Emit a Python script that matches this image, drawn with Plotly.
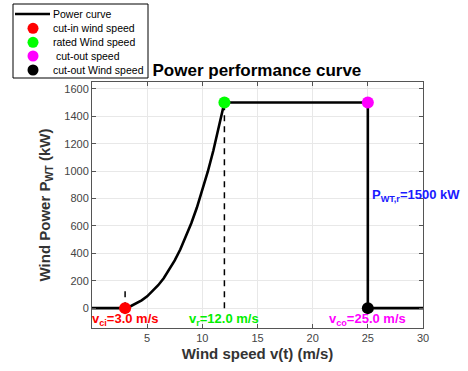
import plotly.graph_objects as go

# data
curve_v = [0, 3, 3.5, 4, 4.5, 5, 5.5, 6, 6.5, 7, 7.5, 8, 8.5, 9, 9.5, 10, 10.5, 11, 11.5, 12, 25, 25, 30]
curve_p = [0, 0, 14, 33, 57, 86, 123, 167, 218, 279, 348, 428, 518, 619, 732, 858, 997, 1150, 1317, 1500, 1500, 0, 0]
v_ci, v_r, v_co = 3.0, 12.0, 25.0
p_rated = 1500
x_ticks = [5, 10, 15, 20, 25, 30]
y_ticks = [0, 200, 400, 600, 800, 1000, 1200, 1400, 1600]
legend_names = ["Power curve", "cut-in wind speed", "rated Wind speed", " cut-out speed", "cut-out Wind speed"]
marker_colors = ["#ff0000", "#00ff00", "#ff00ff", "black"]

FONT = "Liberation Sans, Arial, sans-serif"
W, H = 468, 371
ML, MR, MT, MB = 92, 45, 82, 43
PW, PH = W - ML - MR, H - MT - MB


def px(xp):
    return (xp - ML) / PW


def py(yp):
    return (H - MB - yp) / PH


fig = go.Figure()
fig.add_trace(go.Scatter(x=curve_v, y=curve_p, mode="lines", name=legend_names[0], showlegend=False,
                         line=dict(color="black", width=2.6)))
fig.add_trace(go.Scatter(x=[v_ci, v_ci], y=[0, 150], mode="lines", showlegend=False,
                         line=dict(color="black", width=1.5, dash="6px,5px")))
fig.add_trace(go.Scatter(x=[v_r, v_r], y=[0, p_rated], mode="lines", showlegend=False,
                         line=dict(color="black", width=1.5, dash="6px,5px")))
marker_pts = [(v_ci, 0), (v_r, p_rated), (v_co, p_rated), (v_co, 0)]
for (mx, my), col, nm in zip(marker_pts, marker_colors, legend_names[1:]):
    fig.add_trace(go.Scatter(x=[mx], y=[my], mode="markers", name=nm, showlegend=False,
                             marker=dict(color=col, size=12)))

ann_font = dict(family=FONT, size=13)
fig.add_annotation(x=v_ci, y=-5, text="<b>v<sub>ci</sub>=3.0 m/s</b>", showarrow=False,
                   xanchor="center", yanchor="top", font=dict(color="#ff0000", **ann_font))
fig.add_annotation(x=v_r, y=-5, text="<b>v<sub>r</sub>=12.0 m/s</b>", showarrow=False,
                   xanchor="center", yanchor="top", font=dict(color="#00ee00", **ann_font))
fig.add_annotation(x=v_co, y=-5, text="<b>v<sub>co</sub>=25.0 m/s</b>", showarrow=False,
                   xanchor="center", yanchor="top", font=dict(color="#ff00ff", **ann_font))
fig.add_annotation(x=v_co, y=820, text="<b>P<sub>WT,r</sub>=1500 kW</b>", showarrow=False,
                   xanchor="left", yanchor="middle", xshift=2, font=dict(color="#1a1aff", **ann_font))

# manual legend box (matching the reference's compact layout)
shapes = [dict(type="rect", xref="paper", yref="paper", x0=px(13), x1=px(148), y0=py(78), y1=py(4),
               line=dict(color="black", width=1), fillcolor="white", layer="above")]
rows = [14, 28.3, 42.3, 56, 70]
shapes.append(dict(type="line", xref="paper", yref="paper", x0=px(15), x1=px(50), y0=py(rows[0]), y1=py(rows[0]),
                   line=dict(color="black", width=2.6), layer="above"))
for r, col in zip(rows[1:], marker_colors):
    shapes.append(dict(type="circle", xref="paper", yref="paper", x0=px(27.5), x1=px(38.5),
                       y0=py(r + 5.5), y1=py(r - 5.5), fillcolor=col, line=dict(color=col, width=0), layer="above"))
for r, nm in zip(rows, legend_names):
    fig.add_annotation(xref="paper", yref="paper", x=px(51), y=py(r), text=nm, showarrow=False,
                       xanchor="left", yanchor="middle", font=dict(family=FONT, size=10.5, color="black"))

axis_common = dict(showline=True, linecolor="#555", linewidth=1, mirror="ticks", ticks="inside",
                   ticklen=4, tickcolor="#555", showgrid=True, gridcolor="#e8e8e8", zeroline=False,
                   tickfont=dict(family=FONT, size=11, color="#444"))
fig.update_xaxes(range=[0, 30], tickvals=x_ticks,
                 title=dict(text="<b>Wind speed v(t) (m/s)</b>", font=dict(family=FONT, size=15, color="#333"), standoff=5),
                 **axis_common)
fig.update_yaxes(range=[-145, 1650], tickvals=y_ticks,
                 title=dict(text="<b>Wind Power P<sub>WT</sub> (kW)</b>", font=dict(family=FONT, size=15, color="#333"), standoff=10),
                 **axis_common)

fig.update_layout(
    width=W, height=H, margin=dict(l=ML, r=MR, t=MT, b=MB),
    plot_bgcolor="white", paper_bgcolor="white",
    title=dict(text="<b>Power performance curve</b>", x=0.549, xanchor="center", y=0.81, yanchor="middle",
               font=dict(family=FONT, size=17, color="black")),
    showlegend=False,
    shapes=shapes,
    font=dict(family=FONT),
)
fig.write_html("out.html")
